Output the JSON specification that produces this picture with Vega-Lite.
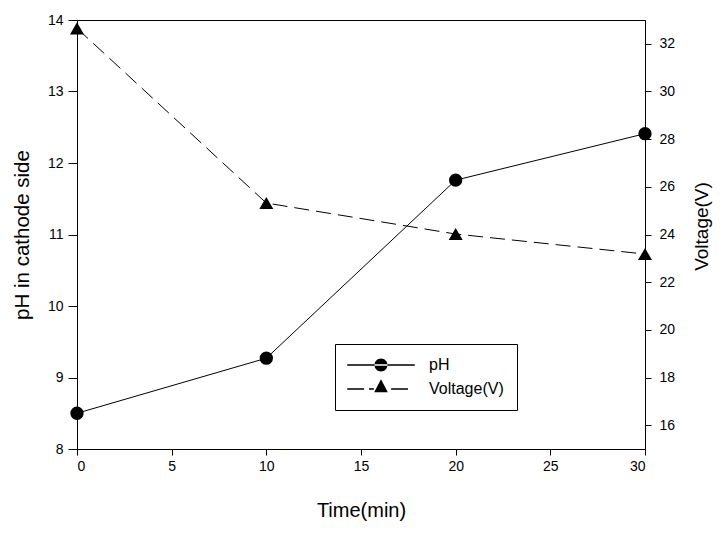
{
  "$schema": "https://vega.github.io/schema/vega-lite/v6.json",
  "width": 568,
  "height": 429,
  "autosize": {"type": "none"},
  "padding": {"left": 77, "top": 20, "right": 78, "bottom": 85},
  "background": "white",
  "config": {
    "font": "Liberation Sans",
    "view": {"stroke": "black", "strokeWidth": 1},
    "axis": {
      "domainColor": "black", "tickColor": "black", "labelColor": "black", "titleColor": "black",
      "labelFontSize": 14, "titleFontSize": 19, "titleFontWeight": "normal",
      "labelFont": "Liberation Sans", "titleFont": "Liberation Sans",
      "grid": false, "domainWidth": 1, "tickWidth": 1
    },
    "legend": {"labelFont": "Liberation Sans", "labelColor": "black"}
  },
  "data": {
    "values": [
      {"time": 0, "series": "pH", "value": 8.5},
      {"time": 10, "series": "pH", "value": 9.27},
      {"time": 20, "series": "pH", "value": 11.76},
      {"time": 30, "series": "pH", "value": 12.41},
      {"time": 0, "series": "Voltage(V)", "value": 32.65},
      {"time": 10, "series": "Voltage(V)", "value": 25.32},
      {"time": 20, "series": "Voltage(V)", "value": 24.02},
      {"time": 30, "series": "Voltage(V)", "value": 23.18}
    ]
  },
  "encoding": {
    "x": {
      "field": "time", "type": "quantitative",
      "scale": {"domain": [0, 30], "nice": false},
      "axis": {"values": [0, 5, 10, 15, 20, 25, 30], "tickSize": 6, "labelPadding": 4, "title": "Time(min)", "titleFontSize": 20, "titlePadding": 27}
    }
  },
  "layer": [
    {
      "transform": [{"filter": "datum.series === 'pH'"}],
      "encoding": {
        "y": {
          "field": "value", "type": "quantitative",
          "scale": {"domain": [8, 14], "nice": false, "zero": false},
          "axis": {"orient": "left", "values": [8, 9, 10, 11, 12, 13, 14], "tickSize": 9, "labelPadding": 5, "title": "pH in cathode side", "titleFontSize": 20.5, "titlePadding": 15}
        }
      },
      "layer": [
        {"mark": {"type": "line", "color": "black", "strokeWidth": 1}},
        {"mark": {"type": "point", "shape": "circle", "filled": true, "color": "black", "size": 177, "opacity": 1}},
        {
          "mark": {"type": "point", "filled": true, "color": "black", "opacity": 0},
          "encoding": {
            "shape": {
              "field": "series", "type": "nominal",
              "scale": {
                "domain": ["pH", "Voltage(V)"],
                "range": [
                  "M-5.2,-0.1L5.2,-0.1L5.2,0.1L-5.2,0.1ZM-1,0A1,1 0 1 0 1,0A1,1 0 1 0 -1,0Z",
                  "M-5.2,-0.1L-2.6,-0.1L-2.6,0.1L-5.2,0.1ZM-1.85,-0.1L-1.1,-0.1L-1.1,0.1L-1.85,0.1ZM1.55,-0.1L4.15,-0.1L4.15,0.1L1.55,0.1ZM0,-1.5L1.05,0.5L-1.05,0.5Z"
                ]
              },
              "legend": {
                "title": null, "orient": "none", "legendX": 258, "legendY": 324,
                "strokeColor": "black", "padding": 13, "symbolSize": 169,
                "symbolOffset": 25, "labelOffset": 40,
                "labelFontSize": 16, "rowPadding": 1,
                "encode": {
                  "symbols": {
                    "update": {
                      "stroke": {"value": "transparent"},
                      "strokeWidth": {"value": 0},
                      "fill": {"value": "black"},
                      "opacity": {"value": 1}
                    }
                  }
                }
              }
            }
          }
        }
      ]
    },
    {
      "transform": [{"filter": "datum.series === 'Voltage(V)'"}],
      "encoding": {
        "y": {
          "field": "value", "type": "quantitative",
          "scale": {"domain": [15, 33], "nice": false, "zero": false},
          "axis": {"orient": "right", "values": [16, 18, 20, 22, 24, 26, 28, 30, 32], "tickSize": 6, "labelPadding": 8, "title": "Voltage(V)", "titleAngle": 270, "titlePadding": 37, "titleY": 206}
        }
      },
      "layer": [
        {"mark": {"type": "line", "color": "black", "strokeWidth": 1, "strokeDash": [15, 7]}},
        {"mark": {"type": "point", "shape": "triangle-up", "filled": true, "color": "black", "size": 196, "opacity": 1}}
      ]
    }
  ],
  "resolve": {"scale": {"y": "independent"}}
}
